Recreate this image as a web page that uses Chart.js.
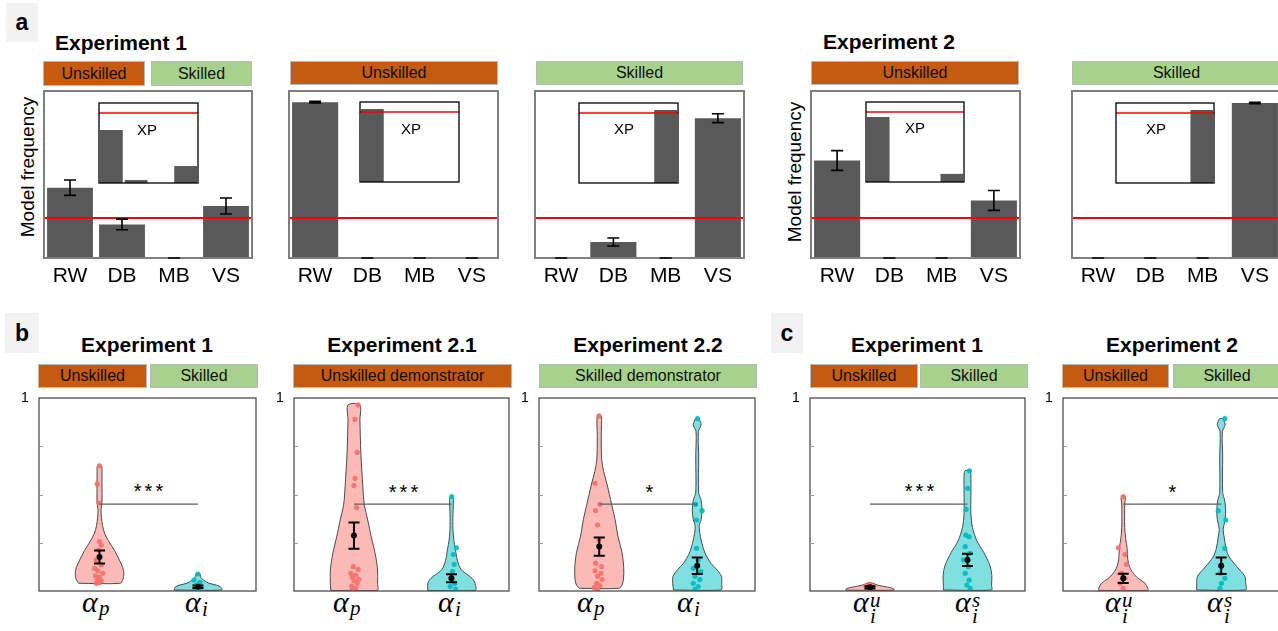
<!DOCTYPE html>
<html>
<head>
<meta charset="utf-8">
<script src="https://cdn.jsdelivr.net/npm/chart.js@4.4.1/dist/chart.umd.min.js"></script>
<style>
  html, body { margin: 0; padding: 0; background: #fff; }
  body { position: relative; width: 1278px; height: 631px; overflow: hidden;
         font-family: 'Liberation Sans', Arial, sans-serif; color: #000; }
  canvas { position: absolute; }
  .t { position: absolute; white-space: nowrap; transform: translate(-50%, -50%); line-height: 1.2; }
  .tag { position: absolute; background: #f2f2f2; font-weight: bold; font-size: 23px;
         display: flex; align-items: center; justify-content: center; }
  .ttl { font-weight: bold; font-size: 21px; }
  .hdr { position: absolute; box-sizing: border-box; border: 1.5px solid #b8b8b8; font-size: 16px;
         display: flex; align-items: center; justify-content: center; color: #111; white-space: nowrap; }
  .uns { background: #c55a11; }
  .skl { background: #a9d18e; }
  .ylab { font-size: 19px; transform: translate(-50%, -50%) rotate(-90deg); }
  .xp { font-size: 15px; }
  .star { font-size: 20px; letter-spacing: 3px; }
  .ml { position: absolute; font-family: 'Liberation Serif', serif; font-style: italic;
        font-size: 30px; line-height: 30px; white-space: nowrap; }
  .ml span { position: absolute; font-size: 21px; line-height: 21px; }
</style>
</head>
<body>

<!-- row a -->
<div class="tag" style="left:6px;top:3px;width:32px;height:39px">a</div>
<div class="t ttl" style="left:121px;top:42.5px">Experiment 1</div>
<div class="t ttl" style="left:889px;top:42px">Experiment 2</div>
<div class="hdr uns" style="left:43px;top:61px;width:102px;height:25px">Unskilled</div>
<div class="hdr skl" style="left:151px;top:61px;width:101px;height:25px">Skilled</div>
<div class="hdr uns" style="left:290px;top:61px;width:208px;height:24px">Unskilled</div>
<div class="hdr skl" style="left:536px;top:61px;width:207px;height:24px">Skilled</div>
<div class="hdr uns" style="left:811px;top:61px;width:208px;height:24px">Unskilled</div>
<div class="hdr skl" style="left:1072px;top:61px;width:209px;height:24px">Skilled</div>
<div class="t ylab" style="left:28px;top:167px">Model frequency</div>
<div class="t ylab" style="left:795px;top:172px">Model frequency</div>

<!-- rows b and c -->
<div class="tag" style="left:5px;top:313px;width:34px;height:40px">b</div>
<div class="tag" style="left:771px;top:313px;width:32px;height:40px">c</div>
<div class="t ttl" style="left:147px;top:345px">Experiment 1</div>
<div class="t ttl" style="left:402px;top:345px">Experiment 2.1</div>
<div class="t ttl" style="left:648px;top:345px">Experiment 2.2</div>
<div class="t ttl" style="left:917px;top:345px">Experiment 1</div>
<div class="t ttl" style="left:1172px;top:345px">Experiment 2</div>
<div class="hdr uns" style="left:38px;top:364px;width:109px;height:24px">Unskilled</div>
<div class="hdr skl" style="left:150px;top:364px;width:108px;height:24px">Skilled</div>
<div class="hdr uns" style="left:293px;top:364px;width:219px;height:24px">Unskilled demonstrator</div>
<div class="hdr skl" style="left:539px;top:364px;width:218px;height:24px">Skilled demonstrator</div>
<div class="hdr uns" style="left:810px;top:364px;width:108px;height:24px">Unskilled</div>
<div class="hdr skl" style="left:920px;top:364px;width:108px;height:24px">Skilled</div>
<div class="hdr uns" style="left:1062px;top:364px;width:107px;height:24px">Unskilled</div>
<div class="hdr skl" style="left:1173px;top:364px;width:108px;height:24px">Skilled</div>

<div class="t star" style="left:150px;top:491px">***</div>
<div class="t star" style="left:405px;top:492px">***</div>
<div class="t star" style="left:651px;top:492px">*</div>
<div class="t star" style="left:921px;top:491px">***</div>
<div class="t star" style="left:1174px;top:492px">*</div>

<div class="ml" style="left:82px;top:587px">α<span style="left:17px;top:11px">p</span></div>
<div class="ml" style="left:185px;top:587px">α<span style="left:17px;top:12px">i</span></div>
<div class="ml" style="left:333px;top:587px">α<span style="left:17px;top:11px">p</span></div>
<div class="ml" style="left:438px;top:587px">α<span style="left:17px;top:12px">i</span></div>
<div class="ml" style="left:577px;top:587px">α<span style="left:17px;top:11px">p</span></div>
<div class="ml" style="left:677px;top:587px">α<span style="left:17px;top:12px">i</span></div>
<div class="ml" style="left:853px;top:587px">α<span style="left:17px;top:3px">u</span><span style="left:17px;top:19px">i</span></div>
<div class="ml" style="left:955px;top:587px">α<span style="left:17px;top:3px">s</span><span style="left:17px;top:19px">i</span></div>
<div class="ml" style="left:1105px;top:587px">α<span style="left:17px;top:3px">u</span><span style="left:17px;top:19px">i</span></div>
<div class="ml" style="left:1207px;top:587px">α<span style="left:17px;top:3px">s</span><span style="left:17px;top:19px">i</span></div>

<script>
// ---------- model comparison (row a) ----------
const models = ['RW', 'DB', 'MB', 'VS'];
const chanceLevel = 0.25;
const xpThreshold = 0.95;
const freqMax = 1.045;
const xpMax = 1.085;

const exp1AllFreq = [0.44, 0.21, 0.0, 0.325];
const exp1AllSem  = [0.048, 0.033, 0.0, 0.05];
const exp1AllXp   = [0.72, 0.04, 0.0, 0.23];

const exp1UnskFreq = [0.975, 0.0, 0.0, 0.0];
const exp1UnskSem  = [0.005, 0.0, 0.0, 0.0];
const exp1UnskXp   = [0.99, 0.0, 0.0, 0.0];

const exp1SkFreq = [0.0, 0.10, 0.0, 0.875];
const exp1SkSem  = [0.0, 0.025, 0.0, 0.028];
const exp1SkXp   = [0.0, 0.0, 0.0, 0.99];

const exp2UnskFreq = [0.61, 0.0, 0.0, 0.36];
const exp2UnskSem  = [0.062, 0.0, 0.0, 0.062];
const exp2UnskXp   = [0.88, 0.0, 0.0, 0.11];

const exp2SkFreq = [0.0, 0.0, 0.0, 0.97];
const exp2SkSem  = [0.0, 0.0, 0.0, 0.005];
const exp2SkXp   = [0.0, 0.0, 0.0, 0.99];

// ---------- weights alpha (rows b, c) ----------
const sigLevel = 0.45;

// b, Experiment 1
const b1Means = [0.176, 0.022];
const b1Sems  = [0.034, 0.007];
const b1ApLevels = [0.04, 0.06, 0.09, 0.12, 0.16, 0.21, 0.26, 0.30, 0.34, 0.38, 0.42, 0.46, 0.55, 0.62, 0.649];
const b1ApWidths = [0.212, 0.237, 0.247, 0.237, 0.202, 0.152, 0.091, 0.051, 0.03, 0.02, 0.015, 0.025, 0.025, 0.025, 0.02];
const b1ApValues = [0.649, 0.555, 0.456, 0.256, 0.238, 0.212, 0.161, 0.135, 0.117, 0.105, 0.092, 0.079, 0.071, 0.061, 0.052, 0.043, 0.04];
const b1ApJitter = [0, -0.023, -0.007, 0, 0.017, -0.007, -0.033, 0.017, -0.05, -0.017, 0.033, -0.04, 0, -0.023, 0.017, -0.007, -0.033];
const b1AiLevels = [0.005, 0.02, 0.03, 0.04, 0.055, 0.07, 0.088];
const b1AiWidths = [0.242, 0.232, 0.192, 0.111, 0.061, 0.03, 0.02];
const b1AiValues = [0.088, 0.057, 0.045, 0.03, 0.02, 0.015, 0.01, 0.006];
const b1AiJitter = [0, -0.04, 0.02, -0.02, 0.03, -0.03, 0.01, 0];

// b, Experiment 2.1
const b2Means = [0.287, 0.066];
const b2Sems  = [0.068, 0.021];
const b2ApLevels = [0.002, 0.04, 0.109, 0.195, 0.281, 0.368, 0.446, 0.54, 0.713, 0.886, 0.964];
const b2ApWidths = [0.237, 0.242, 0.242, 0.217, 0.177, 0.141, 0.106, 0.091, 0.071, 0.061, 0.061];
const b2ApValues = [0.964, 0.889, 0.718, 0.584, 0.546, 0.432, 0.126, 0.112, 0.092, 0.083, 0.071, 0.061, 0.054, 0.04, 0.026, 0.014, 0.005];
const b2ApJitter = [0.043, 0.01, 0.033, 0.01, 0, 0.027, -0.007, 0.043, -0.033, 0.017, -0.017, 0.05, 0, 0.033, -0.023, 0.017, -0.017];
const b2AiLevels = [0.002, 0.04, 0.065, 0.085, 0.11, 0.14, 0.18, 0.22, 0.26, 0.32, 0.40, 0.47, 0.489];
const b2AiWidths = [0.242, 0.242, 0.212, 0.162, 0.101, 0.071, 0.051, 0.04, 0.025, 0.015, 0.015, 0.02, 0.015];
const b2AiValues = [0.489, 0.224, 0.189, 0.138, 0.1, 0.066, 0.04, 0.023, 0.01];
const b2AiJitter = [0.003, 0.05, 0.02, 0.027, 0.01, -0.007, 0.033, -0.013, 0.043];

// b, Experiment 2.2
const b3Means = [0.23, 0.131];
const b3Sems  = [0.047, 0.043];
const b3ApLevels = [0.014, 0.03, 0.06, 0.12, 0.2, 0.28, 0.37, 0.45, 0.55, 0.62, 0.68, 0.8, 0.907];
const b3ApWidths = [0.202, 0.232, 0.247, 0.25, 0.232, 0.192, 0.162, 0.126, 0.081, 0.045, 0.025, 0.02, 0.02];
const b3ApValues = [0.907, 0.558, 0.449, 0.417, 0.342, 0.264, 0.144, 0.126, 0.105, 0.092, 0.076, 0.059, 0.04, 0.028, 0.017, 0.009];
const b3ApJitter = [-0.003, -0.043, 0.007, -0.037, -0.017, -0.003, -0.037, 0.023, -0.043, 0.017, -0.017, 0.03, -0.027, 0.007, -0.05, -0.017];
const b3AiLevels = [0.005, 0.04, 0.076, 0.11, 0.143, 0.195, 0.264, 0.334, 0.37, 0.42, 0.47, 0.51, 0.7, 0.826, 0.86, 0.88, 0.893];
const b3AiWidths = [0.242, 0.25, 0.247, 0.202, 0.141, 0.081, 0.04, 0.02, 0.04, 0.05, 0.04, 0.015, 0.015, 0.012, 0.04, 0.03, 0.015];
const b3AiValues = [0.893, 0.449, 0.416, 0.368, 0.221, 0.161, 0.118, 0.1, 0.076, 0.059, 0.04, 0.023, 0.009];
const b3AiJitter = [0.003, -0.017, 0.05, -0.007, -0.007, 0.01, -0.04, 0.037, -0.023, 0.027, -0.04, 0.01, -0.023];

// c, Experiment 1
const c1Means = [0.019, 0.161];
const c1Sems  = [0.006, 0.032];
const c1AuLevels = [0.004, 0.012, 0.02, 0.03, 0.038, 0.042];
const c1AuWidths = [0.247, 0.242, 0.182, 0.081, 0.04, 0.02];
const c1AuValues = [0.035, 0.026, 0.021, 0.013];
const c1AuJitter = [-0.003, -0.043, 0.03, -0.01];
const c1AsLevels = [0.005, 0.03, 0.08, 0.13, 0.2, 0.26, 0.33, 0.4, 0.5, 0.6, 0.623];
const c1AsWidths = [0.247, 0.247, 0.25, 0.232, 0.167, 0.096, 0.051, 0.035, 0.035, 0.035, 0.025];
const c1AsValues = [0.623, 0.532, 0.423, 0.29, 0.281, 0.23, 0.195, 0.161, 0.126, 0.092, 0.057, 0.031, 0.014];
const c1AsJitter = [0.02, 0.003, -0.013, -0.017, 0.017, -0.023, 0.027, -0.04, 0.01, -0.023, 0.017, -0.007, 0.027];

// c, Experiment 2
const c2Means = [0.066, 0.131];
const c2Sems  = [0.024, 0.043];
const c2AuLevels = [0.002, 0.015, 0.04, 0.07, 0.1, 0.13, 0.17, 0.22, 0.27, 0.33, 0.45, 0.489];
const c2AuWidths = [0.25, 0.25, 0.222, 0.141, 0.091, 0.061, 0.045, 0.04, 0.025, 0.015, 0.015, 0.02];
const c2AuValues = [0.489, 0.224, 0.189, 0.138, 0.092, 0.066, 0.04, 0.014];
const c2AuJitter = [0, -0.05, 0.017, 0.033, -0.017, 0.017, -0.033, 0];
const c2AsLevels = [0.005, 0.04, 0.076, 0.126, 0.177, 0.22, 0.28, 0.32, 0.37, 0.42, 0.47, 0.51, 0.7, 0.826, 0.86, 0.88, 0.893];
const c2AsWidths = [0.25, 0.25, 0.242, 0.16, 0.081, 0.05, 0.03, 0.02, 0.04, 0.045, 0.035, 0.015, 0.015, 0.012, 0.04, 0.03, 0.015];
const c2AsValues = [0.893, 0.416, 0.368, 0.221, 0.13, 0.092, 0.066, 0.04, 0.014];
const c2AsJitter = [0.037, -0.03, 0.047, 0.037, 0.003, -0.013, 0.037, 0.003, -0.013];

// ---------- shared chart setup ----------
Chart.defaults.font.family = "'Liberation Sans', Arial, sans-serif";
Chart.defaults.color = '#000';
Chart.defaults.animation = false;
Chart.defaults.events = [];
Chart.defaults.plugins.legend.display = false;
Chart.defaults.plugins.tooltip.enabled = false;

// box around the plotting area, optional white background and short inner ticks
const framePlugin = {
  id: 'frame',
  defaults: { color: '#000', width: 1, background: null, innerTicks: [] },
  beforeDatasetsDraw(chart, args, opts) {
    if (!opts.background) return;
    const { left, top, right, bottom } = chart.chartArea;
    const ctx = chart.ctx;
    ctx.save();
    ctx.fillStyle = opts.background;
    ctx.fillRect(left, top, right - left, bottom - top);
    ctx.restore();
  },
  afterDraw(chart, args, opts) {
    const { left, top, right, bottom } = chart.chartArea;
    const ctx = chart.ctx;
    ctx.save();
    ctx.strokeStyle = opts.color;
    ctx.lineWidth = opts.width;
    ctx.strokeRect(left, top, right - left, bottom - top);
    ctx.lineWidth = 1;
    ctx.strokeStyle = '#9a9a9a';
    (opts.innerTicks || []).forEach(v => {
      const py = Math.round(chart.scales.y.getPixelForValue(v)) + 0.5;
      ctx.beginPath();
      ctx.moveTo(left, py);
      ctx.lineTo(left + 4, py);
      ctx.stroke();
    });
    ctx.restore();
  }
};

// horizontal reference line across the whole plotting area
const refLinePlugin = {
  id: 'refLine',
  defaults: { value: null, color: '#ff0000', width: 2 },
  afterDatasetsDraw(chart, args, opts) {
    if (opts.value === null || opts.value === undefined) return;
    const { left, right } = chart.chartArea;
    const py = chart.scales.y.getPixelForValue(opts.value);
    const ctx = chart.ctx;
    ctx.save();
    ctx.strokeStyle = opts.color;
    ctx.lineWidth = opts.width;
    ctx.beginPath();
    ctx.moveTo(left, py);
    ctx.lineTo(right, py);
    ctx.stroke();
    ctx.restore();
  }
};

// mean +/- SEM whiskers for datasets that carry an errorBars array
const errorBarPlugin = {
  id: 'errorBars',
  afterDraw(chart) {
    const ctx = chart.ctx;
    const yScale = chart.scales.y;
    chart.data.datasets.forEach((ds, di) => {
      if (!ds.errorBars) return;
      const meta = chart.getDatasetMeta(di);
      meta.data.forEach((el, i) => {
        const d = ds.data[i];
        const v = typeof d === 'number' ? d : d.y;
        const e = ds.errorBars[i];
        const y1 = yScale.getPixelForValue(v + e);
        const y2 = yScale.getPixelForValue(v - e);
        const half = ds.errorCap;
        ctx.save();
        ctx.strokeStyle = '#000';
        ctx.lineWidth = ds.errorWidth;
        ctx.beginPath();
        ctx.moveTo(el.x, y1); ctx.lineTo(el.x, y2);
        ctx.moveTo(el.x - half, y1); ctx.lineTo(el.x + half, y1);
        ctx.moveTo(el.x - half, y2); ctx.lineTo(el.x + half, y2);
        ctx.stroke();
        ctx.restore();
      });
    });
  }
};

Chart.register(framePlugin, refLinePlugin, errorBarPlugin);

function addCanvas(left, top, width, height) {
  const c = document.createElement('canvas');
  c.width = width;
  c.height = height;
  c.style.left = left + 'px';
  c.style.top = top + 'px';
  c.style.width = width + 'px';
  c.style.height = height + 'px';
  document.body.appendChild(c);
  return c;
}

function addText(txt, x, y, cls) {
  const d = document.createElement('div');
  d.className = 't ' + cls;
  d.textContent = txt;
  d.style.left = x + 'px';
  d.style.top = y + 'px';
  document.body.appendChild(d);
}

// model frequency bars with SEM and chance line
function barPanel(fx, fy, fw, fh, freq, sem) {
  const pad = 2, axisH = 34;
  const cv = addCanvas(fx - pad, fy - pad, fw + 2 * pad, fh + pad + axisH);
  new Chart(cv, {
    type: 'bar',
    data: {
      labels: models,
      datasets: [{
        data: freq, backgroundColor: '#595959',
        barPercentage: 0.9, categoryPercentage: 0.98,
        errorBars: sem, errorCap: 6, errorWidth: 1.6
      }]
    },
    options: {
      responsive: false,
      layout: { padding: { left: pad, right: pad, top: pad, bottom: 0 } },
      scales: {
        x: {
          grid: { display: false, drawTicks: false },
          border: { display: false },
          ticks: { font: { size: 21 }, padding: 6, color: '#000' },
          afterFit(s) { s.height = axisH; }
        },
        y: { display: false, min: 0, max: freqMax }
      },
      plugins: {
        frame: { color: '#7f7f7f', width: 2 },
        refLine: { value: chanceLevel, color: '#ff0000', width: 2 }
      }
    }
  });
}

// exceedance probability inset
function xpInset(ix, iy, iw, ih, xp, lx, ly) {
  const pad = 1;
  const cv = addCanvas(ix - pad, iy - pad, iw + 2 * pad, ih + 2 * pad);
  new Chart(cv, {
    type: 'bar',
    data: {
      labels: models,
      datasets: [{ data: xp, backgroundColor: '#595959', barPercentage: 0.92, categoryPercentage: 1 }]
    },
    options: {
      responsive: false,
      layout: { padding: pad },
      scales: {
        x: { display: false },
        y: { display: false, min: 0, max: xpMax }
      },
      plugins: {
        frame: { color: '#000', width: 1.3, background: '#fff' },
        refLine: { value: xpThreshold, color: '#ff0000', width: 1.6 }
      }
    }
  });
  addText('XP', lx, ly, 'xp');
}

function outline(center, levels, widths) {
  const pts = [];
  for (let i = 0; i < levels.length; i++) pts.push({ x: center - widths[i], y: levels[i] });
  for (let i = levels.length - 1; i >= 0; i--) pts.push({ x: center + widths[i], y: levels[i] });
  pts.push(pts[0]);
  return pts;
}

const pinkFill = 'rgba(248,118,109,0.5)', pinkDot = 'rgba(246,112,108,0.9)';
const cyanFill = 'rgba(0,191,196,0.5)', cyanDot = 'rgba(0,186,192,0.9)';

// two violins with jittered points, mean +/- SEM and a significance bracket
function violinPanel(fx, fy, fw, fh, left, right, means, sems) {
  const yw = 18, pt = 12, pb = 10, pr = 2;
  const cv = addCanvas(fx - yw, fy - pt, fw + yw + pr, fh + pt + pb);
  const cats = [1, 2];
  const sides = [left, right];
  const datasets = [];
  sides.forEach((s, k) => {
    datasets.push({
      type: 'line', data: outline(cats[k], s.levels, s.widths),
      borderColor: '#4a4a4a', borderWidth: 1, backgroundColor: s.fill,
      fill: 'shape', tension: 0.3, pointRadius: 0, order: 6
    });
  });
  sides.forEach((s, k) => {
    datasets.push({
      data: s.values.map((v, i) => ({ x: cats[k] + s.jitter[i], y: v })),
      backgroundColor: s.dot, pointRadius: 2.6, pointBorderWidth: 0, order: 4
    });
  });
  datasets.push({
    type: 'line', data: [{ x: cats[0], y: sigLevel }, { x: cats[1], y: sigLevel }],
    borderColor: '#5f5f5f', borderWidth: 1.3, pointRadius: 0, fill: false, order: 3
  });
  datasets.push({
    data: [{ x: cats[0], y: means[0] }, { x: cats[1], y: means[1] }],
    backgroundColor: '#000', pointRadius: 3, pointBorderWidth: 0,
    errorBars: sems, errorCap: 5.5, errorWidth: 2, order: 1
  });
  new Chart(cv, {
    type: 'scatter',
    data: { datasets },
    options: {
      responsive: false,
      layout: { padding: { left: 0, right: pr, top: pt, bottom: pb } },
      scales: {
        x: { type: 'linear', display: false, min: 0.385, max: 2.59 },
        y: {
          min: 0, max: 1,
          afterFit(s) { s.width = yw; },
          grid: { display: false, drawTicks: false },
          border: { display: false },
          ticks: {
            stepSize: 0.25, padding: 0, crossAlign: 'far', font: { size: 14 }, color: '#000',
            callback: v => (v === 1 ? '1' : '')
          }
        }
      },
      plugins: {
        frame: { color: '#404040', width: 1.2, innerTicks: [0.25, 0.5, 0.75] }
      }
    }
  });
}

// row a
barPanel(44, 91, 208, 167, exp1AllFreq, exp1AllSem);
barPanel(289, 91, 209, 167, exp1UnskFreq, exp1UnskSem);
barPanel(535, 91, 209, 167, exp1SkFreq, exp1SkSem);
barPanel(811, 91, 209, 167, exp2UnskFreq, exp2UnskSem);
barPanel(1072, 91, 209, 167, exp2SkFreq, exp2SkSem);

xpInset(99, 103, 99, 80, exp1AllXp, 147, 130);
xpInset(360, 102, 99, 80, exp1UnskXp, 411, 128.5);
xpInset(579, 103, 99, 80, exp1SkXp, 624, 129);
xpInset(866, 102, 98, 80, exp2UnskXp, 915, 128);
xpInset(1116, 103, 98, 80, exp2SkXp, 1156, 129);

// rows b and c
const side = (levels, widths, values, jitter, fill, dot) => ({ levels, widths, values, jitter, fill, dot });
violinPanel(39, 398, 219, 193,
  side(b1ApLevels, b1ApWidths, b1ApValues, b1ApJitter, pinkFill, pinkDot),
  side(b1AiLevels, b1AiWidths, b1AiValues, b1AiJitter, cyanFill, cyanDot), b1Means, b1Sems);
violinPanel(294, 398, 217, 193,
  side(b2ApLevels, b2ApWidths, b2ApValues, b2ApJitter, pinkFill, pinkDot),
  side(b2AiLevels, b2AiWidths, b2AiValues, b2AiJitter, cyanFill, cyanDot), b2Means, b2Sems);
violinPanel(539, 398, 218, 193,
  side(b3ApLevels, b3ApWidths, b3ApValues, b3ApJitter, pinkFill, pinkDot),
  side(b3AiLevels, b3AiWidths, b3AiValues, b3AiJitter, cyanFill, cyanDot), b3Means, b3Sems);
violinPanel(810, 398, 217, 193,
  side(c1AuLevels, c1AuWidths, c1AuValues, c1AuJitter, pinkFill, pinkDot),
  side(c1AsLevels, c1AsWidths, c1AsValues, c1AsJitter, cyanFill, cyanDot), c1Means, c1Sems);
violinPanel(1063, 398, 218, 193,
  side(c2AuLevels, c2AuWidths, c2AuValues, c2AuJitter, pinkFill, pinkDot),
  side(c2AsLevels, c2AsWidths, c2AsValues, c2AsJitter, cyanFill, cyanDot), c2Means, c2Sems);
</script>
</body>
</html>
